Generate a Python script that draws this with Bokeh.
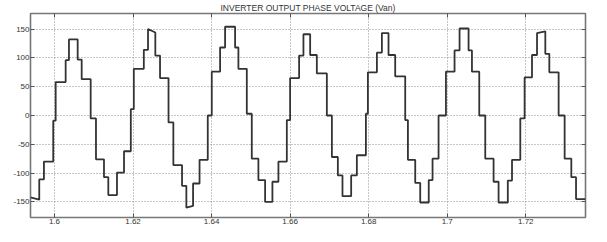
from bokeh.plotting import figure
from bokeh.models import Range1d, FixedTicker, LinearAxis
from bokeh.embed import file_html
from bokeh.resources import INLINE

# ---- data ----
title_text = "INVERTER OUTPUT PHASE VOLTAGE (Van)"

# start time of each constant (or slightly sloping) level, seconds
seg_t = [1.59389, 1.59613, 1.59732, 1.59969, 1.60031, 1.60285, 1.60369, 1.60591,
         1.60693, 1.60922, 1.61057, 1.61261, 1.61371,
         1.61592, 1.61771, 1.61944, 1.62020, 1.62275, 1.62382, 1.62568, 1.62688,
         1.62904, 1.63027, 1.63248, 1.63358,
         1.63529, 1.63694, 1.63903, 1.64005, 1.64217, 1.64344, 1.64599, 1.64683,
         1.64897, 1.65024, 1.65192, 1.65363,
         1.65549, 1.65702, 1.65916, 1.66000, 1.66229, 1.66339, 1.66510, 1.66680,
         1.66935, 1.67063, 1.67215, 1.67333,
         1.67554, 1.67699, 1.67929, 1.67980, 1.68209, 1.68336, 1.68505, 1.68675,
         1.68930, 1.68999, 1.69185, 1.69312,
         1.69529, 1.69626, 1.69779, 1.69967, 1.70186, 1.70314, 1.70543, 1.70629,
         1.70815, 1.70968, 1.71180, 1.71307,
         1.71542, 1.71649, 1.71860, 1.71970, 1.72158, 1.72286, 1.72497, 1.72599,
         1.72836, 1.72989, 1.73159, 1.73279]
t_end = 1.7352

# voltage at the start of each level (V)
seg_v0 = [-142, -111, -80, -9, 58, 96, 132, 97, 63, -5, -76, -107, -138,
          -99, -62, 11, 81, 114, 150, 104, 65, -12, -86, -122, -160,
          -118, -77, 0, 76, 118, 154, 118, 81, 3, -75, -112, -150,
          -115, -80, -8, 65, 104, 141, 105, 73, 0, -72, -104, -140,
          -104, -69, 3, 75, 109, 143, 105, 68, -8, -77, -117, -151,
          -112, -75, 0, 76, 113, 151, 113, 76, 0, -75, -115, -151,
          -113, -77, -5, 66, 105, 143, 107, 75, 0, -75, -107, -145]

# voltage at the end of each level (sloping tops/bottoms), None = flat
seg_v1 = [-146] + [None] * 17 + [144] + [None] * 5 + [-157] + [None] * 53 + [146] + [None] * 6

x_ticks = [1.6, 1.62, 1.64, 1.66, 1.68, 1.7, 1.72]
x_tick_labels = ["1.6", "1.62", "1.64", "1.66", "1.68", "1.7", "1.72"]
y_ticks = [-150, -100, -50, 0, 50, 100, 150]
y_tick_labels = ["-150", "-100", "-50", "0", "50", "100", "150"]

# ---- build polyline ----
bounds = seg_t + [t_end]
xs, ys = [], []
for i, v0 in enumerate(seg_v0):
    v1 = v0 if seg_v1[i] is None else seg_v1[i]
    xs += [bounds[i], bounds[i + 1]]
    ys += [v0, v1]

FONT = "Liberation Sans"

p = figure(width=591, height=226, output_backend="svg", toolbar_location=None,
           x_range=Range1d(1.5939, 1.7352), y_range=Range1d(-177, 177),
           min_border_left=30, min_border_right=6, min_border_top=2, min_border_bottom=2,
           title=title_text)
p.title.align = "center"
p.title.text_font = FONT
p.title.text_font_size = "8.5px"
p.title.text_font_style = "normal"
p.title.text_color = "#333333"
p.title.standoff = 1
p.title.offset = 0

p.line(xs, ys, line_color="#333333", line_width=1.8)

p.outline_line_color = "#777777"
p.outline_line_width = 1.6
p.background_fill_color = "white"
p.border_fill_color = "white"

for ax, ticks, labels in ((p.xaxis[0], x_ticks, x_tick_labels), (p.yaxis[0], y_ticks, y_tick_labels)):
    ax.ticker = FixedTicker(ticks=ticks)
    ax.major_label_overrides = {t: l for t, l in zip(ticks, labels)}
    ax.major_tick_in = 4
    ax.major_tick_out = 0
    ax.minor_tick_line_color = None
    ax.major_tick_line_color = "#555555"
    ax.axis_line_color = None
    ax.axis_label_standoff = 0
    ax.major_label_text_font = FONT
    ax.major_label_text_font_size = "8px"
    ax.major_label_text_color = "#333333"
    ax.major_label_standoff = 1

# ticks on the top and right sides, without labels
for loc, ticks in (("above", x_ticks), ("right", y_ticks)):
    ax = LinearAxis(ticker=FixedTicker(ticks=ticks))
    ax.major_tick_in = 4
    ax.major_tick_out = 0
    ax.minor_tick_line_color = None
    ax.major_tick_line_color = "#555555"
    ax.axis_line_color = None
    ax.axis_label_standoff = 0
    ax.major_label_overrides = {t: "" for t in ticks}
    ax.major_label_text_font_size = "0px"
    ax.major_label_standoff = 0
    p.add_layout(ax, loc)

p.xgrid.ticker = FixedTicker(ticks=x_ticks)
p.ygrid.ticker = FixedTicker(ticks=y_ticks)
for g in (p.xgrid[0], p.ygrid[0]):
    g.grid_line_color = "#8c8c8c"
    g.grid_line_dash = "1 2"
    g.grid_line_width = 1

open("out.html", "w").write(file_html(p, INLINE))
